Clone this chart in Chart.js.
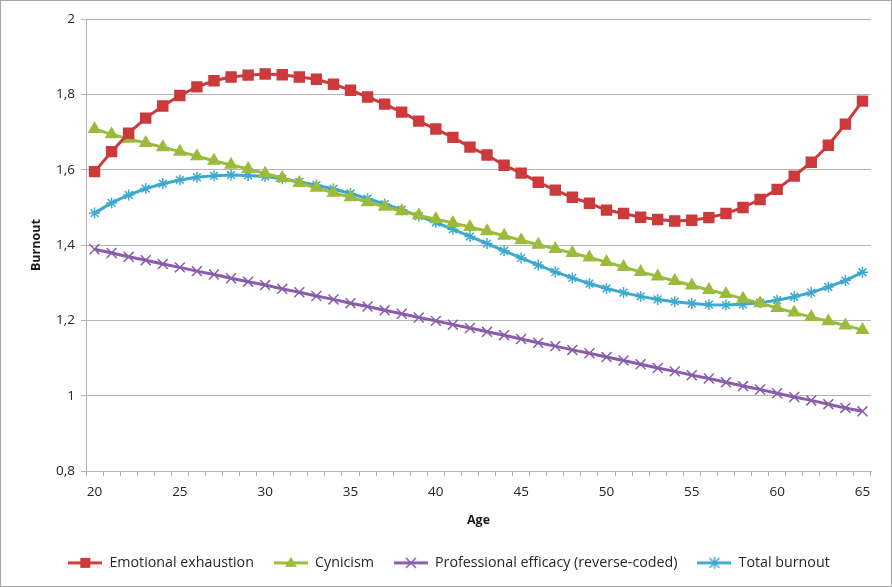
<!DOCTYPE html>
<html>
<head>
<meta charset="utf-8">
<script src="https://cdn.jsdelivr.net/npm/chart.js@4/dist/chart.umd.min.js"></script>
<style>
  html, body { margin: 0; padding: 0; background: #fff; }
  #wrap { width: 890px; height: 585px; border: 1px solid #a6a6a6; }
  canvas { display: block; }
</style>
</head>
<body>
<div id="wrap"><canvas id="chart" width="890" height="585"></canvas></div>
<script>
/* burnout by age — four series, Excel-style line chart */

const ages = [20, 21, 22, 23, 24, 25, 26, 27, 28, 29, 30, 31, 32, 33, 34, 35, 36, 37, 38, 39, 40, 41, 42,
  43, 44, 45, 46, 47, 48, 49, 50, 51, 52, 53, 54, 55, 56, 57, 58, 59, 60, 61, 62, 63, 64, 65];

const exhaustion = [1.595, 1.648, 1.697, 1.737, 1.769, 1.797, 1.820, 1.836, 1.846, 1.851,
  1.854, 1.852, 1.846, 1.840, 1.827, 1.811, 1.793, 1.774, 1.753, 1.729,
  1.708, 1.686, 1.660, 1.639, 1.612, 1.591, 1.567, 1.546, 1.527, 1.511,
  1.493, 1.484, 1.474, 1.468, 1.464, 1.466, 1.473, 1.484, 1.500, 1.521,
  1.548, 1.583, 1.620, 1.665, 1.721, 1.782];

const cynicism = [1.708, 1.694, 1.682, 1.671, 1.660, 1.648, 1.636, 1.624, 1.613, 1.602,
  1.590, 1.578, 1.565, 1.552, 1.539, 1.527, 1.514, 1.502, 1.490, 1.479,
  1.469, 1.459, 1.448, 1.437, 1.425, 1.413, 1.401, 1.390, 1.379, 1.367,
  1.355, 1.342, 1.329, 1.317, 1.305, 1.293, 1.281, 1.270, 1.258, 1.246,
  1.233, 1.221, 1.209, 1.198, 1.187, 1.175];

const efficacy = [1.389, 1.379, 1.369, 1.360, 1.350, 1.341, 1.331, 1.322, 1.312, 1.303,
  1.294, 1.284, 1.275, 1.265, 1.256, 1.246, 1.237, 1.227, 1.218, 1.208,
  1.199, 1.189, 1.180, 1.170, 1.161, 1.151, 1.141, 1.132, 1.122, 1.113,
  1.103, 1.094, 1.084, 1.074, 1.065, 1.055, 1.046, 1.036, 1.026, 1.017,
  1.007, 0.997, 0.988, 0.978, 0.968, 0.959];

const total = [1.485, 1.512, 1.533, 1.550, 1.563, 1.573, 1.580, 1.584, 1.586, 1.585,
  1.582, 1.576, 1.568, 1.559, 1.549, 1.537, 1.523, 1.509, 1.494, 1.477,
  1.460, 1.442, 1.423, 1.404, 1.385, 1.366, 1.347, 1.329, 1.313, 1.298,
  1.285, 1.274, 1.264, 1.256, 1.250, 1.245, 1.242, 1.241, 1.243, 1.247,
  1.254, 1.263, 1.274, 1.289, 1.306, 1.328];

const seriesNames = ['Emotional exhaustion', 'Cynicism', 'Professional efficacy (reverse-coded)', 'Total burnout'];

const RED = '#CC3A3B';
const GREEN = '#9CBB3C';
const PURPLE = '#8A5CA9';
const CYAN = '#3EA9CF';
const GRID = '#b4b4b4';
const TXT = '#262626';
const FONT = "'Open Sans', 'Noto Sans', sans-serif";

// small line+marker icon for the legend, like Excel draws it
function legendIcon(color, style) {
  const c = document.createElement('canvas');
  c.width = 34; c.height = 14;
  const g = c.getContext('2d');
  g.strokeStyle = color; g.fillStyle = color; g.lineWidth = 3;
  g.beginPath(); g.moveTo(0, 7); g.lineTo(34, 7); g.stroke();
  const x = 17, y = 7;
  g.lineWidth = 1.5;
  if (style === 'rect') {
    g.fillRect(x - 5, y - 5, 10, 10);
  } else if (style === 'triangle') {
    g.beginPath(); g.moveTo(x, y - 6); g.lineTo(x + 6, y + 4); g.lineTo(x - 6, y + 4); g.closePath(); g.fill();
  } else {
    g.beginPath();
    g.moveTo(x - 5, y - 5); g.lineTo(x + 5, y + 5);
    g.moveTo(x + 5, y - 5); g.lineTo(x - 5, y + 5);
    if (style === 'star') { g.moveTo(x, y - 6); g.lineTo(x, y + 6); g.moveTo(x - 6, y); g.lineTo(x + 6, y); }
    g.stroke();
  }
  return c;
}

function series(label, data, color, style, radius) {
  return {
    label, data,
    borderColor: color, backgroundColor: color,
    borderWidth: 3, tension: 0,
    pointStyle: style, pointRadius: radius, pointHoverRadius: radius,
    pointBorderColor: color, pointBackgroundColor: color, pointBorderWidth: 1.5,
  };
}

const icons = [
  legendIcon(RED, 'rect'), legendIcon(GREEN, 'triangle'),
  legendIcon(PURPLE, 'crossRot'), legendIcon(CYAN, 'star'),
];

new Chart(document.getElementById('chart'), {
  type: 'line',
  data: {
    labels: ages,
    datasets: [
      series(seriesNames[0], exhaustion, RED, 'rect', 7),
      series(seriesNames[1], cynicism, GREEN, 'triangle', 6.5),
      series(seriesNames[2], efficacy, PURPLE, 'crossRot', 7),
      series(seriesNames[3], total, CYAN, 'star', 5.5),
    ],
  },
  options: {
    responsive: false,
    animation: false,
    layout: { padding: { top: 18, right: 20, left: 26, bottom: 6 } },
    plugins: {
      tooltip: { enabled: false },
      legend: {
        position: 'bottom',
        labels: {
          usePointStyle: true, pointStyleWidth: 34, padding: 20,
          color: TXT, font: { family: FONT, size: 14.25 },
          generateLabels: (chart) => Chart.defaults.plugins.legend.labels.generateLabels(chart)
            .map((l, i) => Object.assign(l, { pointStyle: icons[i] })),
        },
      },
    },
    scales: {
      x: {
        type: 'category',
        offset: true,
        afterFit: (s) => { s.height = 64.5; },
        grid: { offset: true, drawOnChartArea: false, drawTicks: true, tickLength: 5, color: GRID },
        border: { color: GRID },
        ticks: {
          autoSkip: false, maxRotation: 0, padding: 8, color: TXT, font: { family: FONT, size: 13.5 },
          callback: (v, i) => (ages[i] % 5 === 0 ? String(ages[i]) : ''),
        },
        title: { display: true, text: 'Age', color: '#1a1a1a', font: { family: FONT, size: 12.5, weight: 'bold' }, padding: { top: 0, bottom: 8 } },
      },
      y: {
        min: 0.8, max: 2,
        afterFit: (s) => { s.width = 59; },
        grid: { color: GRID, tickLength: 5 },
        border: { color: GRID },
        ticks: {
          stepSize: 0.2, padding: 6, color: TXT, font: { family: FONT, size: 13.5 },
          callback: (v) => String(Math.round(v * 10) / 10).replace('.', ','),
        },
        title: { display: true, text: 'Burnout', color: '#1a1a1a', font: { family: FONT, size: 12.5, weight: 'bold' }, padding: { top: 2, bottom: 0 } },
      },
    },
  },
});
</script>
</body>
</html>
